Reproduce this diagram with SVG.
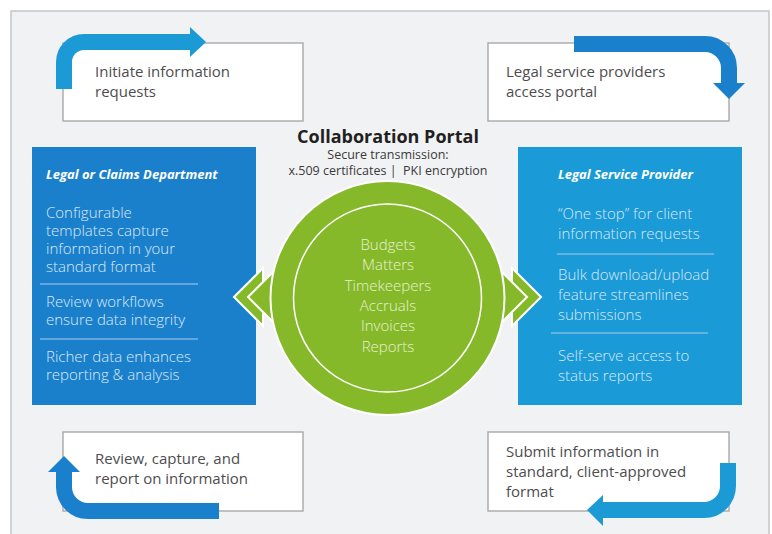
<svg xmlns="http://www.w3.org/2000/svg" width="772" height="534" viewBox="0 0 772 534">
<style>
.frame{fill:#f1f2f4;stroke:#c4c5c7;stroke-width:1.5}
.box{fill:#fff;stroke:#a8a9ab;stroke-width:1.4}
.bt{font-family:"Open Sans",Lato,sans-serif;font-size:15px;fill:#4d4d4f}
.pt{font-family:"Open Sans",Lato,sans-serif;font-size:15px;font-weight:300;fill:#dbe9f6}
.ph{font-family:"Open Sans",Lato,sans-serif;font-size:13px;font-weight:bold;font-style:italic;fill:#fff}
.sep{stroke:#a9cbea;stroke-width:1.2}
.ct{font-family:"Open Sans",Lato,sans-serif;font-size:15px;font-weight:300;fill:#e6f1d2;text-anchor:middle}
.title{font-family:"Open Sans",Lato,sans-serif;font-size:18px;font-weight:bold;fill:#231f20;text-anchor:middle}
.sub{font-family:"Open Sans",Lato,sans-serif;font-size:12.5px;fill:#3a3a3a;text-anchor:middle}
.arrL{fill:none;stroke:#1b9ad6;stroke-width:16}
.arrD{fill:none;stroke:#1b80cc;stroke-width:16}
.chev{fill:#86b92a;stroke:#fff;stroke-width:2}
</style>
<rect class="frame" x="11" y="11" width="758" height="540"/>

<g id="step-initiate">
<rect class="box" x="63" y="43" width="240" height="78"/>
<text class="bt" x="95" y="77">Initiate information</text>
<text class="bt" x="95" y="97">requests</text>
</g>
<g id="step-access">
<rect class="box" x="488" y="43" width="241" height="78"/>
<text class="bt" x="506" y="77">Legal service providers</text>
<text class="bt" x="506" y="97">access portal</text>
</g>
<g id="step-review">
<rect class="box" x="63" y="432" width="240" height="79"/>
<text class="bt" x="95" y="464">Review, capture, and</text>
<text class="bt" x="95" y="484">report on information</text>
</g>
<g id="step-submit">
<rect class="box" x="488" y="432" width="241" height="79"/>
<text class="bt" x="506" y="457">Submit information in</text>
<text class="bt" x="506" y="477">standard, client-approved</text>
<text class="bt" x="506" y="497">format</text>
</g>

<g id="connectors">
<path class="arrL" d="M64,89 V62 A20,20 0 0 1 84,42 H191"/>
<polygon fill="#1b9ad6" points="190,27 206,42 190,57"/>
<path class="arrD" d="M574,44 H705 A24,24 0 0 1 729,68 V84"/>
<polygon fill="#1b80cc" points="713,83 745,83 729,99"/>
<path class="arrD" d="M219,511 H88 A24,24 0 0 1 64,487 V471"/>
<polygon fill="#1b80cc" points="48,472 80,472 64,456"/>
<path class="arrL" d="M728,463 V486 A24,24 0 0 1 704,510 H602"/>
<polygon fill="#1b9ad6" points="603,495 603,526 587,510"/>
</g>

<g id="legal-dept">
<rect x="32" y="147" width="224" height="258" fill="#1b80cc"/>
<text class="ph" x="46" y="179">Legal or Claims Department</text>
<text class="pt" x="46" y="218">Configurable</text>
<text class="pt" x="46" y="236">templates capture</text>
<text class="pt" x="46" y="254">information in your</text>
<text class="pt" x="46" y="272">standard format</text>
<line class="sep" x1="40" y1="284" x2="198" y2="284"/>
<text class="pt" x="46" y="307">Review workflows</text>
<text class="pt" x="46" y="325">ensure data integrity</text>
<line class="sep" x1="40" y1="339" x2="198" y2="339"/>
<text class="pt" x="46" y="362">Richer data enhances</text>
<text class="pt" x="46" y="380">reporting &amp; analysis</text>
</g>

<g id="service-provider">
<rect x="518" y="147" width="224" height="258" fill="#1a9ad6"/>
<text class="ph" x="558" y="179">Legal Service Provider</text>
<text class="pt" x="558" y="219">“One stop” for client</text>
<text class="pt" x="558" y="239">information requests</text>
<line class="sep" x1="557" y1="254" x2="714" y2="254"/>
<text class="pt" x="558" y="280">Bulk download/upload</text>
<text class="pt" x="558" y="300">feature streamlines</text>
<text class="pt" x="558" y="320">submissions</text>
<line class="sep" x1="551" y1="333" x2="708" y2="333"/>
<text class="pt" x="558" y="361">Self-serve access to</text>
<text class="pt" x="558" y="381">status reports</text>
</g>

<g id="portal">
<text class="title" x="388" y="143">Collaboration Portal</text>
<text class="sub" x="388" y="159">Secure transmission:</text>
<text class="sub" x="388" y="175">x.509 certificates |&#160; PKI encryption</text>
<polygon class="chev" points="234,297 263,268 263,326"/>
<polygon class="chev" points="248,297 277,268 277,326"/>
<polygon class="chev" points="541,297 512,268 512,326"/>
<polygon class="chev" points="527,297 498,268 498,326"/>
<circle cx="387.5" cy="298" r="117" fill="#86b92a" stroke="#fff" stroke-width="2"/>
<circle cx="387.5" cy="298" r="94" fill="#86b92a" stroke="#fff" stroke-width="1.5"/>
<text class="ct" x="388" y="250">Budgets</text>
<text class="ct" x="388" y="270">Matters</text>
<text class="ct" x="388" y="291">Timekeepers</text>
<text class="ct" x="388" y="311">Accruals</text>
<text class="ct" x="388" y="331">Invoices</text>
<text class="ct" x="388" y="352">Reports</text>
</g>
</svg>
